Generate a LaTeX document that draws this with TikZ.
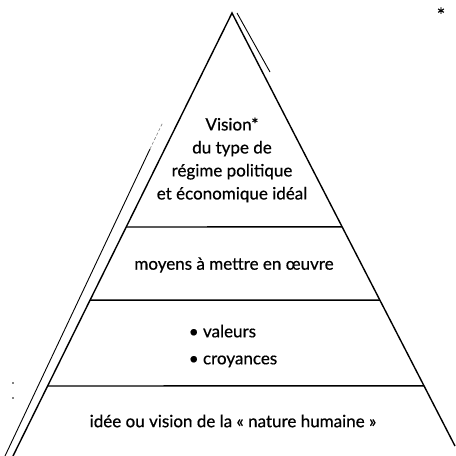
\documentclass[tikz,border=0pt]{standalone}
\usepackage{fontspec}
\setmainfont{Lato}[FakeBold=0.6]
\usetikzlibrary{calc}
\tikzset{
  edge/.style={line width=1.4pt},
  rim/.style={line width=0.9pt},
  label/.style={font=\fontsize{17}{23}\selectfont, align=center, inner sep=0pt}
}
\begin{document}
\begin{tikzpicture}[x=1pt,y=-1pt]
\useasboundingbox (0,0) rectangle (456,456);
\coordinate (top) at (232,13);
\coordinate (bl) at (13,456);
\coordinate (br) at (455,446);
\draw[edge] (bl) -- (top) -- (br);
\draw[rim] (5,456) -- (150,149);
\draw[rim, gray, line width=0.6pt, dash pattern=on 3pt off 2pt] (150,149) -- (163,122);
\draw[rim] (237,13) -- (270,72);
\draw[edge] ($(top)!0.483!(bl)$) -- ($(top)!0.494!(br)$);
\draw[edge] ($(top)!0.648!(bl)$) -- ($(top)!0.663!(br)$);
\draw[edge] ($(top)!0.842!(bl)$) -- ($(top)!0.861!(br)$);
\node[label] (vision) at (232,160) {Vision*\\du type de\\régime politique\\et économique idéal};
\node[label] (means) at (234,265) {moyens à mettre en œuvre};
\node[label, align=left, font=\fontsize{17}{27}\selectfont] (values) at (233,346) {• valeurs\\• croyances};
\node[label] (nature) at (233,421) {idée ou vision de la «~nature humaine~»};
\node[label, font=\fontsize{20}{20}\selectfont] (star) at (441,15) {*};
\fill (13,383) circle (0.8);
\fill (13,398) circle (0.8);
\end{tikzpicture}
\end{document}
